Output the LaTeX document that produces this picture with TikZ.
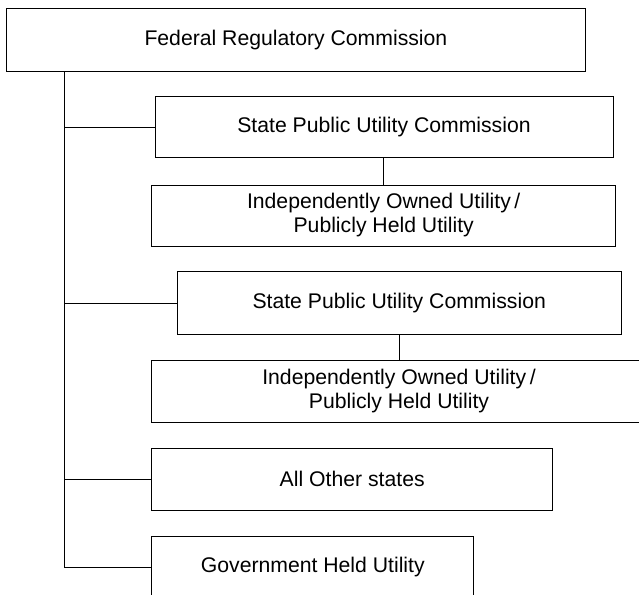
\documentclass[tikz,border=0pt]{standalone}
\usepackage{fontspec}
\setmainfont{Liberation Sans}
\begin{document}
\begin{tikzpicture}[x=1pt,y=-1pt,
  box/.style={draw=black, line width=1pt, rectangle, inner sep=0pt, align=center,
    font=\fontsize{21.2}{24}\selectfont},
  link/.style={draw=black, line width=1pt}]
\useasboundingbox (0,0) rectangle (639,594);
\clip (0,0) rectangle (639,594);
\node[box, minimum width=578.3pt, minimum height=62pt] (fed) at (295.9,40) {Federal Regulatory Commission};
\node[box, minimum width=458pt, minimum height=60.6pt] (spuc1) at (384,127) {State Public Utility Commission};
\node[box, minimum width=464pt, minimum height=61pt] (iou1) at (383.7,215.5) {Independently Owned Utility\,/\\Publicly Held Utility};
\node[box, minimum width=443.7pt, minimum height=62.6pt] (spuc2) at (399.2,303) {State Public Utility Commission};
\node[box, minimum width=494.6pt, minimum height=62.3pt] (iou2) at (399,391.2) {Independently Owned Utility\,/\\Publicly Held Utility};
\node[box, minimum width=401pt, minimum height=62.7pt] (aos) at (352.2,479.4) {All Other states};
\node[box, minimum width=322.3pt, minimum height=61.5pt] (gov) at (312.8,567) {Government Held Utility};
% trunk
\path (fed.south west) ++(58.3,0) coordinate (t);
\draw[link] (t) |- (gov.west);
\draw[link] (spuc1.west) -- (spuc1.west -| t);
\draw[link] (spuc2.west) -- (spuc2.west -| t);
\draw[link] (aos.west) -- (aos.west -| t);
\draw[link] (spuc1.south -| 383.3,0) -- (iou1.north -| 383.3,0);
\draw[link] (spuc2.south -| 399.3,0) -- (iou2.north -| 399.3,0);
\end{tikzpicture}
\end{document}
